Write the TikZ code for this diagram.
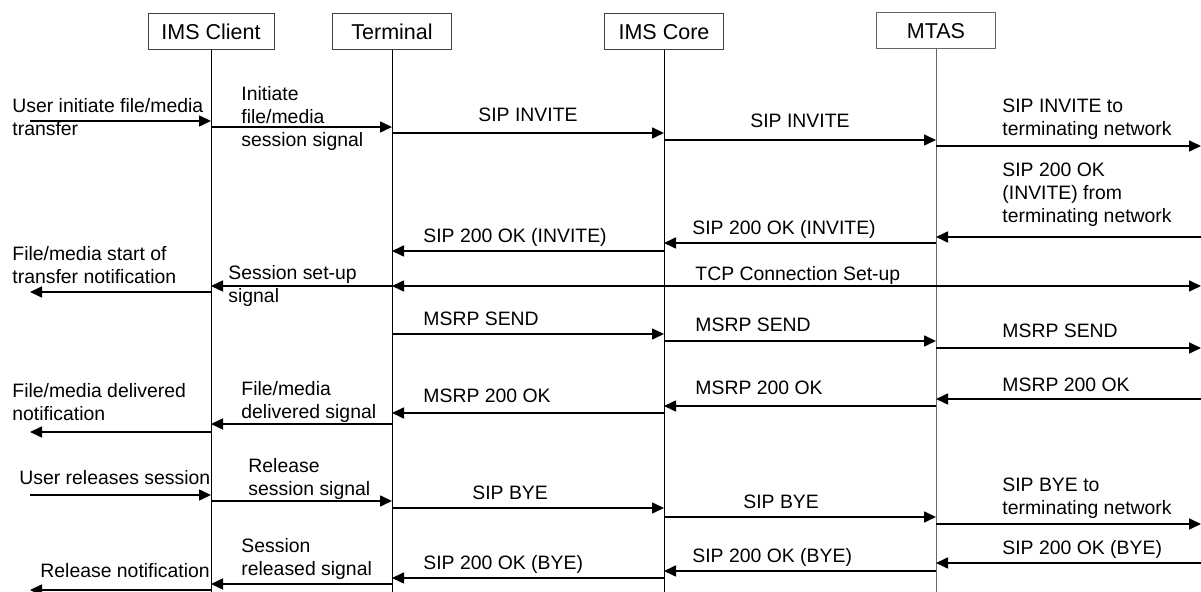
\documentclass[tikz,border=0pt]{standalone}
\usepackage{fontspec}
\setmainfont{Liberation Sans}
\usetikzlibrary{arrows.meta}

\begin{document}
\begin{tikzpicture}[x=0.5pt,y=-0.5pt,>={Triangle[length=6pt,width=5.5pt]},font=\fontsize{9.7}{11.5}\selectfont,lifebox/.style={draw=black!75,line width=0.5pt,minimum width=59.5pt,minimum height=18pt,inner sep=0pt,font=\fontsize{10.75}{12}\selectfont},lifeline/.style={line width=0.5pt},msg/.style={line width=0.8pt,->},msglabel/.style={anchor=base west,align=left,inner sep=0pt}]
\useasboundingbox (0,0) rectangle (1201,592);
\node[lifebox,minimum width=63pt] (cl) at (211,32){IMS Client};
\node[lifebox] (term) at (392,32){Terminal};
\node[lifebox] (core) at (664,32){IMS Core};
\node[lifebox,draw=black!60] (mtas) at (936,31){MTAS};
\coordinate (user) at (30,0); \coordinate (net) at (1201,0);
\draw[lifeline] (cl) -- (cl|-0,592); \draw[lifeline] (term) -- (term|-0,592); \draw[lifeline] (core) -- (core|-0,592); \draw[lifeline,draw=black!60] (mtas) -- (mtas|-0,592);
\node[msglabel] (l1) at (12,136){User initiate file/media\\transfer};
\node[msglabel] (l2) at (241,147){Initiate\\file/media\\session signal};
\node[msglabel] (l3) at (478,122){SIP INVITE};
\node[msglabel] (l4) at (750,128){SIP INVITE};
\node[msglabel] (l5) at (1002,136){SIP INVITE to\\terminating network};
\node[msglabel] (l6) at (1002,223){SIP 200 OK\\(INVITE) from\\terminating network};
\node[msglabel] (l7) at (692,235){SIP 200 OK (INVITE)};
\node[msglabel] (l8) at (423,243){SIP 200 OK (INVITE)};
\node[msglabel] (l9) at (12,284){File/media start of\\transfer notification};
\node[msglabel] (l10) at (228,303){Session set-up\\signal};
\node[msglabel] (l11) at (695,281){TCP Connection Set-up};
\node[msglabel] (l12) at (423,326){MSRP SEND};
\node[msglabel] (l13) at (695,332){MSRP SEND};
\node[msglabel] (l14) at (1002,338){MSRP SEND};
\node[msglabel] (l15) at (1002,392){MSRP 200 OK};
\node[msglabel] (l16) at (695,395){MSRP 200 OK};
\node[msglabel] (l17) at (423,403){MSRP 200 OK};
\node[msglabel] (l18) at (12,421){File/media delivered\\notification};
\node[msglabel] (l19) at (241,419){File/media\\delivered signal};
\node[msglabel] (l20) at (19,485){User releases session};
\node[msglabel] (l21) at (248,496){Release\\session signal};
\node[msglabel] (l22) at (472,500){SIP BYE};
\node[msglabel] (l23) at (743,509){SIP BYE};
\node[msglabel] (l24) at (1002,515){SIP BYE to\\terminating network};
\node[msglabel] (l25) at (1002,555){SIP 200 OK (BYE)};
\node[msglabel] (l26) at (692,563){SIP 200 OK (BYE)};
\node[msglabel] (l27) at (423,570){SIP 200 OK (BYE)};
\node[msglabel] (l28) at (241,576){Session\\released signal};
\node[msglabel] (l29) at (40,578){Release notification};
\draw[msg] (user|-0,121) -- (cl|-0,121); \draw[msg] (cl|-0,127) -- (term|-0,127); \draw[msg] (term|-0,133) -- (core|-0,133); \draw[msg] (core|-0,140) -- (mtas|-0,140); \draw[msg] (mtas|-0,146) -- (net|-0,146);
\draw[msg] (net|-0,237) -- (mtas|-0,237); \draw[msg] (mtas|-0,243) -- (core|-0,243); \draw[msg] (core|-0,251) -- (term|-0,251);
\draw[msg,<->] (term|-0,286) -- (net|-0,286); \draw[msg] (term|-0,286) -- (cl|-0,286); \draw[msg] (cl|-0,292) -- (user|-0,292);
\draw[msg] (term|-0,334) -- (core|-0,334); \draw[msg] (core|-0,341) -- (mtas|-0,341); \draw[msg] (mtas|-0,348) -- (net|-0,348);
\draw[msg] (net|-0,399) -- (mtas|-0,399); \draw[msg] (mtas|-0,406) -- (core|-0,406); \draw[msg] (core|-0,413) -- (term|-0,413); \draw[msg] (term|-0,424) -- (cl|-0,424); \draw[msg] (cl|-0,432) -- (user|-0,432);
\draw[msg] (user|-0,495) -- (cl|-0,495); \draw[msg] (cl|-0,501) -- (term|-0,501); \draw[msg] (term|-0,508) -- (core|-0,508); \draw[msg] (core|-0,517) -- (mtas|-0,517); \draw[msg] (mtas|-0,524) -- (net|-0,524);
\draw[msg] (net|-0,563) -- (mtas|-0,563); \draw[msg] (mtas|-0,571) -- (core|-0,571); \draw[msg] (core|-0,578) -- (term|-0,578); \draw[msg] (term|-0,584) -- (cl|-0,584); \draw[msg] (cl|-0,590) -- (user|-0,590);
\end{tikzpicture}
\end{document}
